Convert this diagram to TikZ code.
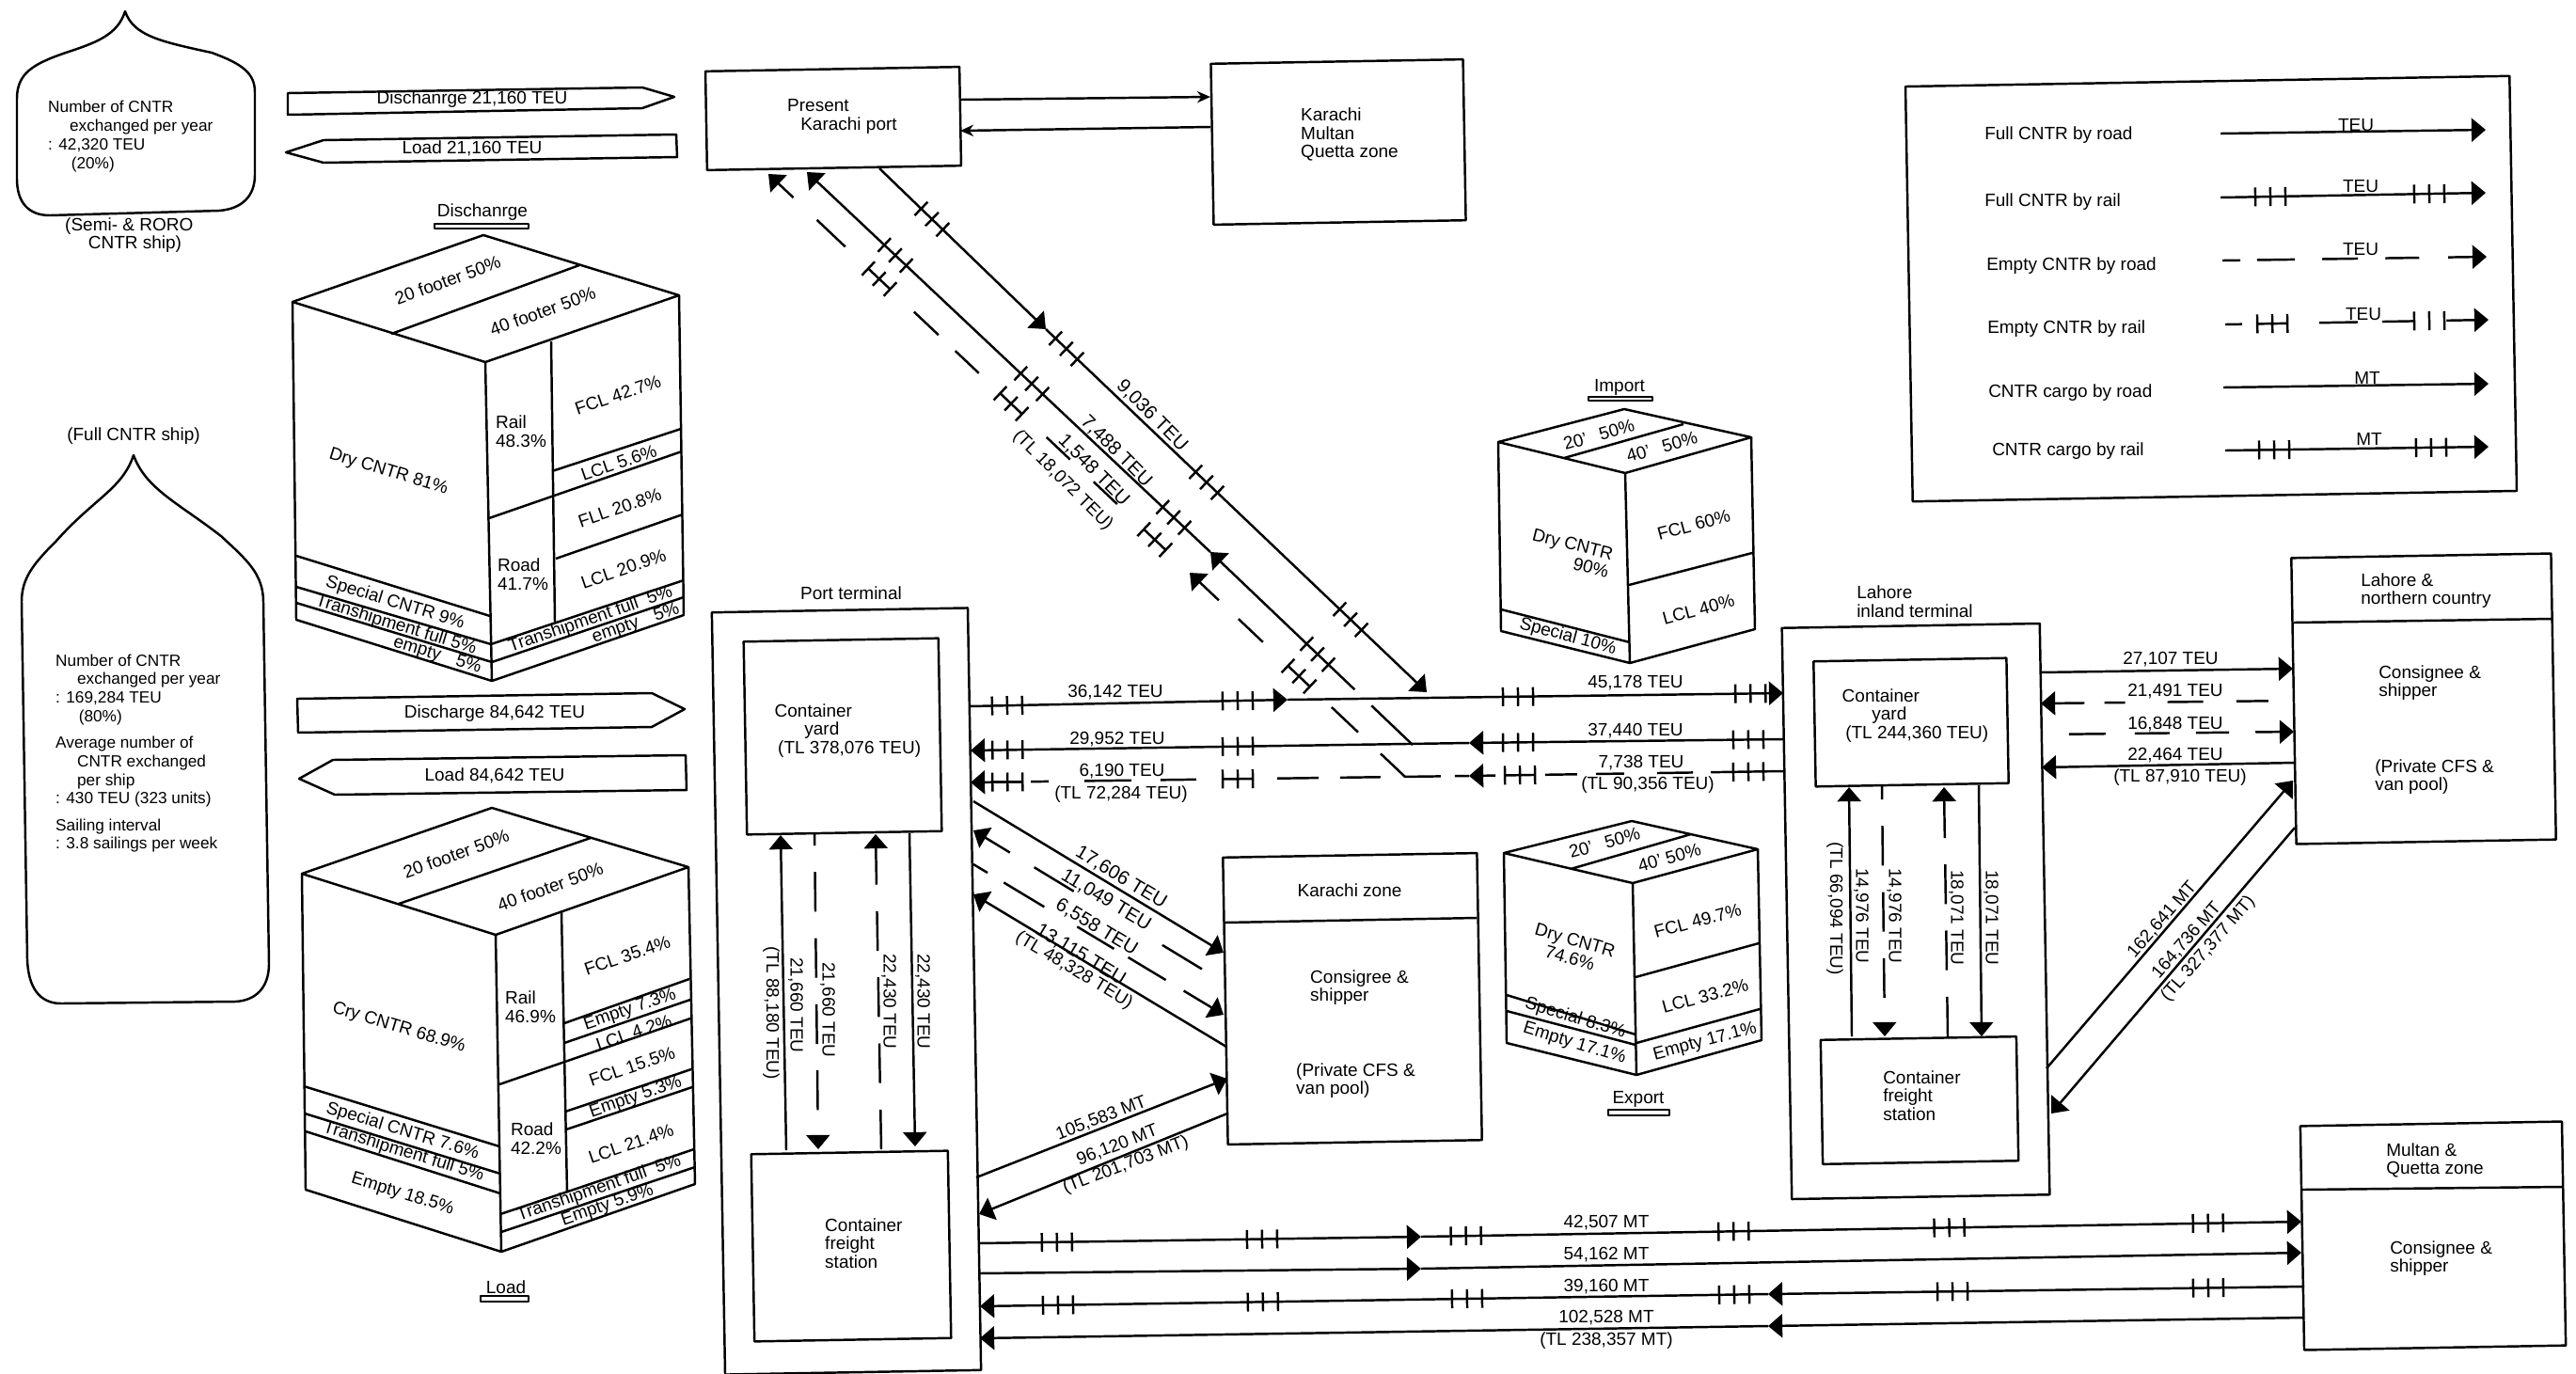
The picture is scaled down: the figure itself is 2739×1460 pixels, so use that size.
\documentclass[tikz,border=0pt]{standalone}
\usepackage{fontspec}
\setmainfont{Liberation Sans}
\usetikzlibrary{arrows.meta}
\newcommand{\lblfont}{\fontsize{5.4}{5.6}\selectfont}
\tikzset{
  box/.style={draw,rotate=1},
  shiptxt/.style={font=\fontsize{4.9}{5.6}\selectfont},
  biglbl/.style={font=\fontsize{5.8}{6}\selectfont},
  toend/.style={-{Triangle[length=4.3pt,width=7.1pt]}},
  thintip/.style={-{Stealth[length=4pt,width=3.5pt]}},
  emptyline/.style={dash pattern=on 12pt off 8pt},
  railtick/.pic={\draw[-,solid] (-16,-10) -- (-16,10) (0,-10) -- (0,10) (16,-10) -- (16,10);},
  railgap/.pic={\draw[-,solid] (-16,-10) -- (-16,10) (0,-10) -- (0,10) (16,-10) -- (16,10) (-16,0) -- (16,0);}
}
\begin{document}
\begin{tikzpicture}[x=.01cm,y=-.01cm,line width=.7pt,line join=round,every node/.style={font=\lblfont,inner sep=0pt,align=left}]
\useasboundingbox (0,0) rectangle (2739,1460);

% ships
\draw (133,12) .. controls (125,38) and (100,46) .. (70,56) .. controls (35,68) and (18,78) .. (18,105) -- (18,190) .. controls (18,215) and (30,229) .. (53,229) -- (233,224) .. controls (258,222) and (271,208) .. (271,186) -- (271,98) .. controls (271,78) and (258,68) .. (225,56) .. controls (170,44) and (142,38) .. (133,12) -- cycle;
\node[shiptxt,anchor=west] (semitxt) at (50,145) {Number of CNTR\\\hspace*{6.5pt}exchanged per year\\: 42,320 TEU\\\hspace*{7pt}(20\%)};
\node[anchor=west] (seminame) at (68,250) {(Semi- \& RORO\\\hspace*{7pt}CNTR ship)};
\node (fullname) at (142,464) {(Full CNTR ship)};
\draw (142,484) .. controls (130,520) and (100,530) .. (60,575) .. controls (35,600) and (23,615) .. (23,640) -- (29,1020) .. controls (30,1050) and (42,1067) .. (65,1067) -- (250,1065) .. controls (272,1064) and (286,1050) .. (286,1025) -- (280,640) .. controls (280,610) and (262,595) .. (235,570) .. controls (190,535) and (155,520) .. (142,484) -- cycle;
\node[shiptxt,anchor=west] (fulltxt) at (58,801) {Number of CNTR\\\hspace*{6.5pt}exchanged per year\\: 169,284 TEU\\\hspace*{7pt}(80\%)\\[2.5pt]Average number of\\\hspace*{6.5pt}CNTR exchanged\\\hspace*{6.5pt}per ship\\: 430 TEU (323 units)\\[2.5pt]Sailing interval\\: 3.8 sailings per week};

% discharge and load bands
\draw (306,99) -- (683,93) -- (717,103) -- (683,115) -- (306,122) -- cycle;
\node (dis1) at (502,106) {Dischanrge 21,160 TEU};
\draw (304,162) -- (344,149) -- (719,143) -- (720,167) -- (344,173) -- cycle;
\node (load1) at (502,158) {Load 21,160 TEU};
\draw (316,743) -- (693,737) -- (728,754) -- (693,773) -- (317,779) -- cycle;
\node (dis2) at (526,759) {Discharge 84,642 TEU};
\draw (318,828) -- (354,808) -- (729,803) -- (730,840) -- (356,845) -- cycle;
\node (load2) at (526,825) {Load 84,642 TEU};

% discharge cube
\node (distitle) at (513,226) {Dischanrge};
\draw (462,238) rectangle (562,243);
\draw (514,250) -- (722,314) -- (516,385) -- (311,321) -- cycle (616,282) -- (416,355);
\draw (311,321) -- (315,659) -- (523,724) -- (727,654) -- (722,314) (516,385) -- (523,724);
\draw (315,591) -- (521,655) (315,624) -- (522,685) (315,641) -- (523,704) (586,363) -- (590,661);
\draw (520,551) -- (725,480) (587,501) -- (724,456) (591,594) -- (726,547) (522,685) -- (727,617) (523,704) -- (727,635);
\node[rotate=20] (d20) at (476,298) {20 footer 50\%};
\node[rotate=20] (d40) at (577,331) {40 footer 50\%};
\node[rotate=-17] (ddry) at (413,502) {Dry CNTR 81\%};
\node (drail) at (554,459) {Rail\\48.3\%};
\node (droad) at (556,611) {Road\\41.7\%};
\node[rotate=19] (dfcl) at (657,420) {FCL 42.7\%};
\node[rotate=19] (dlcl) at (658,492) {LCL 5.6\%};
\node[rotate=19] (dfll) at (659,540) {FLL 20.8\%};
\node[rotate=19] (dlclb) at (663,605) {LCL 20.9\%};
\node[rotate=-17] (dspec) at (420,641) {Special CNTR 9\%};
\node[rotate=-17] (dtrl) at (421,665) {Transhipment full 5\%};
\node[rotate=-17] (demptyl) at (465,697) {empty\hspace{5pt}5\%};
\node[rotate=19] (dtrr) at (628,659) {Transhipment full\hspace{3pt}5\%};
\node[rotate=19] (demptyr) at (676,663) {empty\hspace{5pt}5\%};

% load cube
\draw (523,859) -- (732,922) -- (527,994) -- (321,929) -- cycle (628,891) -- (424,961);
\draw (321,929) -- (325,1265) -- (533,1331) -- (739,1259) -- (732,922) (527,994) -- (533,1331);
\draw (323,1155) -- (531,1219) (324,1184) -- (532,1248) (325,1203) -- (532,1269) (597,970) -- (603,1268);
\draw (600,1088) -- (733,1041) (600,1109) -- (734,1063) (531,1153) -- (734,1083) (601,1182) -- (735,1137) (602,1201) -- (736,1156) (532,1291) -- (738,1222) (533,1310) -- (739,1241);
\node[rotate=20] (l20) at (485,908) {20 footer 50\%};
\node[rotate=20] (l40) at (585,943) {40 footer 50\%};
\node[rotate=-17] (ldry) at (424,1093) {Cry CNTR 68.9\%};
\node (lrail) at (564,1071) {Rail\\46.9\%};
\node (lroad) at (570,1211) {Road\\42.2\%};
\node[rotate=19] (lfcl) at (667,1016) {FCL 35.4\%};
\node[rotate=19] (lempty) at (670,1074) {Empty 7.3\%};
\node[rotate=19] (llcl) at (674,1098) {LCL 4.2\%};
\node[rotate=19] (lfclb) at (672,1134) {FCL 15.5\%};
\node[rotate=19] (lemptyb) at (676,1167) {Empty 5.3\%};
\node[rotate=19] (llclb) at (671,1216) {LCL 21.4\%};
\node[rotate=19] (ltrr) at (637,1264) {Transhipment full\hspace{3pt}5\%};
\node[rotate=19] (lemptyr) at (646,1282) {Empty 5.9\%};
\node[rotate=-17] (lspec) at (428,1203) {Special CNTR 7.6\%};
\node[rotate=-17] (ltrl) at (429,1225) {Transhipment full 5\%};
\node[rotate=-17] (lemptyl) at (428,1270) {Empty 18.5\%};
\node (loadtitle) at (538,1369) {Load};
\draw (511,1378) rectangle (562,1384);

% import cube
\node (imptitle) at (1722,412) {Import};
\draw (1689,422) rectangle (1757,426);
\draw (1727,435) -- (1862,465) -- (1728,503) -- (1593,470) -- cycle (1790,451) -- (1663,487);
\draw (1593,470) -- (1596,671) -- (1733,705) -- (1866,669) -- (1862,465) (1728,503) -- (1733,705);
\draw (1596,648) -- (1733,683) (1732,622) -- (1863,588);
\node[rotate=16] (i20) at (1700,462) {20'\hspace{4pt}50\%};
\node[rotate=16] (i40) at (1767,475) {40'\hspace{4pt}50\%};
\node[rotate=-14,align=right] (idry) at (1670,588) {Dry CNTR\\90\%};
\node[rotate=15] (ifcl) at (1801,558) {FCL 60\%};
\node[rotate=15] (ilcl) at (1806,648) {LCL 40\%};
\node[rotate=-15] (ispec) at (1667,677) {Special 10\%};

% export cube
\draw (1735,873) -- (1869,903) -- (1736,939) -- (1599,907) -- cycle (1798,887) -- (1670,924);
\draw (1599,907) -- (1602,1109) -- (1740,1143) -- (1873,1106) -- (1869,903) (1736,939) -- (1740,1143);
\draw (1602,1058) -- (1739,1100) (1602,1075) -- (1739,1111) (1739,1039) -- (1870,1003) (1740,1109) -- (1871,1073);
\node[rotate=16] (e20) at (1706,896) {20'\hspace{4pt}50\%};
\node[rotate=16] (e40) at (1775,912) {40' 50\%};
\node[rotate=-16,align=center] (edry) at (1672,1009) {Dry CNTR\\74.6\%};
\node[rotate=15] (efcl) at (1805,979) {FCL 49.7\%};
\node[rotate=15] (elcl) at (1813,1059) {LCL 33.2\%};
\node[rotate=-17] (espec) at (1675,1083) {Special 8.3\%};
\node[rotate=-17] (eemptyl) at (1674,1110) {Empty 17.1\%};
\node[rotate=15] (eemptyr) at (1813,1108) {Empty 17.1\%};
\node (exptitle) at (1742,1169) {Export};
\draw (1710,1180) rectangle (1775,1186);

% boxes
\node[box,minimum width=2.70cm,minimum height=1.05cm] (karport) at (886,126) {};
\node[anchor=west] (karporttxt) at (836,124) {Present\\\hspace*{4pt}Karachi port};
\node[box,minimum width=2.68cm,minimum height=1.71cm] (kmq) at (1423,151) {};
\node[anchor=west] (kmqtxt) at (1382,143) {Karachi\\Multan\\Quetta zone};
\node (porttitle) at (905,631) {Port terminal};
\node[box,minimum width=2.72cm,minimum height=8.10cm] (port) at (900,1054) {};
\node[box,minimum width=2.07cm,minimum height=2.05cm] (portcy) at (896,783) {};
\node[anchor=west] (portcytxt) at (826,777) {\hspace*{-1pt}Container\\\hspace*{8pt}yard\\(TL 378,076 TEU)};
\node[box,minimum width=2.09cm,minimum height=1.99cm] (portcfs) at (905,1325) {};
\node[anchor=west] (portcfstxt) at (876,1322) {Container\\freight\\station};
\node[box,minimum width=2.70cm,minimum height=3.05cm] (kzone) at (1438,1062) {};
\draw (1302,981) -- (1570,976);
\node (kzonetitle) at (1435,947) {Karachi zone};
\node[anchor=west] (kzonea) at (1392,1050) {Consigree \&\\shipper};
\node[anchor=west] (kzoneb) at (1377,1149) {(Private CFS \&\\van pool)};
\node[anchor=west] (lahtitle) at (1973,640) {Lahore\\inland terminal};
\node[box,minimum width=2.74cm,minimum height=6.07cm] (lah) at (2037,969) {};
\node[box,minimum width=2.05cm,minimum height=1.33cm] (lahcy) at (2032,768) {};
\node[anchor=west] (lahcytxt) at (1961,761) {\hspace*{-1pt}Container\\\hspace*{8pt}yard\\(TL 244,360 TEU)};
\node[box,minimum width=2.08cm,minimum height=1.32cm] (lahcfs) at (2041,1170) {};
\node[anchor=west] (lahcfstxt) at (2001,1165) {Container\\freight\\station};
\node[box,minimum width=2.76cm,minimum height=3.04cm] (north) at (2577,743) {};
\draw (2439,662) -- (2714,658);
\node[anchor=west] (northtitle) at (2509,628) {Lahore \&\\northern country};
\node[anchor=west] (northa) at (2528,726) {Consignee \&\\shipper};
\node[anchor=west] (northb) at (2524,826) {(Private CFS \&\\van pool)};
\node[box,minimum width=2.78cm,minimum height=2.38cm] (mq) at (2587,1314) {};
\draw (2448,1265) -- (2724,1262);
\node[anchor=west] (mqtitle) at (2536,1234) {Multan \&\\Quetta zone};
\node[anchor=west] (mqtxt) at (2540,1338) {Consignee \&\\shipper};

% end points on the boxes
\coordinate (karportA) at (1021,106);
\coordinate (kmqA) at (1287,103);
\coordinate (kmqB) at (1287,135);
\coordinate (karportB) at (1021,139);
\coordinate (karportC) at (935,179);
\coordinate (jA) at (1112,350);
\coordinate (jB) at (1517,736);
\coordinate (karportD) at (858,183);
\coordinate (jC) at (1287,587);
\coordinate (jD) at (1502,792);
\coordinate (karportE) at (817,185);
\coordinate (jE) at (1265,609);
\coordinate (jF) at (1494,826);
\coordinate (portA) at (1031,751);
\coordinate (midA) at (1369,744);
\coordinate (lahA) at (1896,737);
\coordinate (lahB) at (1896,786);
\coordinate (midB) at (1562,790);
\coordinate (portB) at (1032,798);
\coordinate (lahC) at (1896,820);
\coordinate (midC) at (1562,825);
\coordinate (portC) at (1032,832);

% port and inland terminal
\draw[thintip] (karportA) -- (kmqA);
\draw[thintip] (kmqB) -- (karportB);
\draw[toend] (karportC) -- (jA) pic[pos=.316,sloped]{railtick};
\draw[toend] (jA) -- (jB) pic[pos=.054,sloped]{railtick} pic[pos=.422,sloped]{railtick} pic[pos=.80,sloped]{railtick};
\draw[toend,dash pattern=on 17.2pt off 7pt on 100pt] (jD) -- (jC) pic[pos=.47,sloped]{railtick};
\draw[toend] (jC) -- (karportD) pic[pos=.091,sloped]{railtick} pic[pos=.443,sloped]{railtick} pic[pos=.781,sloped]{railtick};
\draw[toend,dash pattern=on 10.2pt off 9.4pt on 11pt off 28.6pt on 10.2pt off 8.2pt on 12.1pt] (jF) -- (jE) pic[pos=.493,sloped]{railgap};
\draw[toend,dash pattern=on 0pt off 30.2pt on 9.8pt off 9.8pt on 9.8pt off 28.2pt on 9.8pt off 7pt on 10.2pt off 28.6pt on 11.8pt off 9.8pt on 10.6pt] (jE) -- (karportE) pic[pos=.083,sloped]{railgap} pic[pos=.424,sloped]{railgap} pic[pos=.737,sloped]{railgap};
\draw[toend] (portA) -- (midA) pic[pos=.118,sloped]{railtick} pic[pos=.843,sloped]{railtick};
\draw[toend] (midA) -- (lahA) pic[pos=.465,sloped]{railtick} pic[pos=.934,sloped]{railtick};
\draw[toend] (lahB) -- (midB) pic[pos=.111,sloped]{railtick} pic[pos=.844,sloped]{railtick};
\draw[toend] (midB) -- (portB) pic[pos=.464,sloped]{railtick} pic[pos=.926,sloped]{railtick};
\draw[toend,dash pattern=on 21.9pt off 5.4pt on 10.8pt off 10pt on 8.5pt off 5.7pt on 9.7pt off 15pt on 8pt] (lahC) -- (midC) pic[pos=.111,sloped]{railtick} pic[pos=.838,sloped]{railgap};
\draw[toend,dash pattern=on 4.3pt off 4.3pt on 11.1pt off 7.1pt on 12.2pt off 6.5pt on 12.5pt off 24.5pt on 10.8pt off 8.8pt on 14.2pt off 10.8pt on 5.4pt off 2.3pt on 15.9pt] (midC) -- (portC) pic[pos=.464,sloped]{railgap} pic[pos=.926,sloped]{railgap};
\node[biglbl,rotate=-45] (t9036) at (1225,442) {9,036 TEU};
\node[biglbl,rotate=-45] (t7488) at (1187,480) {7,488 TEU};
\node[biglbl,rotate=-45] (t1548) at (1163,500) {1,548 TEU};
\node[rotate=-45] (t18072) at (1130,511) {(TL 18,072 TEU)};
\node (t36142) at (1186,736) {36,142 TEU};
\node (t45178) at (1739,726) {45,178 TEU};
\node (t29952) at (1188,786) {29,952 TEU};
\node (t37440) at (1739,777) {37,440 TEU};
\node (t6190) at (1193,820) {6,190 TEU};
\node (t72284) at (1192,845) {(TL 72,284 TEU)};
\node (t7738) at (1745,811) {7,738 TEU};
\node (t90356) at (1752,835) {(TL 90,356 TEU)};

% inside the port terminal
\coordinate (pcyA) at (830,888);
\coordinate (pcfA) at (836,1223);
\coordinate (pcyB) at (866,885);
\coordinate (pcfB) at (870,1222);
\coordinate (pcyC) at (931,887);
\coordinate (pcfC) at (937,1222);
\coordinate (pcyD) at (967,886);
\coordinate (pcfD) at (973,1219);
\draw[toend] (pcfA) -- (pcyA);
\draw[toend,emptyline,dash phase=8pt] (pcyB) -- (pcfB);
\draw[toend,emptyline] (pcfC) -- (pcyC);
\draw[toend] (pcyD) -- (pcfD);
\node[rotate=-90] (t88180) at (820,1077) {(TL 88,180 TEU)};
\node[rotate=-90] (t21660a) at (846,1069) {21,660 TEU};
\node[rotate=-90] (t21660b) at (880,1074) {21,660 TEU};
\node[rotate=-90] (t22430a) at (945,1065) {22,430 TEU};
\node[rotate=-90] (t22430b) at (981,1065) {22,430 TEU};

% inside the inland terminal
\coordinate (lcyA) at (1966,837);
\coordinate (lcfA) at (1969,1102);
\coordinate (lcyB) at (2001,836);
\coordinate (lcfB) at (2004,1102);
\coordinate (lcyC) at (2067,837);
\coordinate (lcfC) at (2071,1102);
\coordinate (lcyD) at (2104,835);
\coordinate (lcfD) at (2107,1102);
\draw[toend] (lcfA) -- (lcyA);
\draw[toend,emptyline,dash phase=8pt] (lcyB) -- (lcfB);
\draw[toend,emptyline] (lcfC) -- (lcyC);
\draw[toend] (lcyD) -- (lcfD);
\node[rotate=-90] (t66094) at (1951,966) {(TL 66,094 TEU)};
\node[rotate=-90] (t14976a) at (1979,974) {14,976 TEU};
\node[rotate=-90] (t14976b) at (2014,974) {14,976 TEU};
\node[rotate=-90] (t18071a) at (2080,976) {18,071 TEU};
\node[rotate=-90] (t18071b) at (2117,976) {18,071 TEU};

% Karachi zone
\coordinate (portD) at (1035,852);
\coordinate (kzA) at (1301,1013);
\coordinate (kzB) at (1302,1045);
\coordinate (portE) at (1035,883);
\coordinate (portF) at (1035,919);
\coordinate (kzC) at (1301,1079);
\coordinate (kzD) at (1304,1113);
\coordinate (portG) at (1035,951);
\coordinate (portH) at (1038,1252);
\coordinate (kzE) at (1305,1147);
\coordinate (kzF) at (1305,1184);
\coordinate (portI) at (1041,1291);
\draw[toend] (portD) -- (kzA);
\draw[toend,dash pattern=on 0pt off 8pt on 14pt off 31.3pt on 14pt off 8.6pt on 13pt] (kzB) -- (portE);
\draw[toend,dash pattern=on 5pt off 5.7pt on 14.3pt off 11.6pt on 13pt off 5pt on 13.3pt off 6.3pt on 14.3pt] (portF) -- (kzC);
\draw[toend] (kzD) -- (portG);
\draw[toend] (portH) -- (kzE);
\draw[toend] (kzF) -- (portI);
\node[biglbl,rotate=-31] (t17606) at (1192,933) {17,606 TEU};
\node[biglbl,rotate=-31] (t11049) at (1176,957) {11,049 TEU};
\node[biglbl,rotate=-31] (t6558) at (1166,986) {6,558 TEU};
\node[biglbl,rotate=-31] (t13115) at (1149,1015) {13,115 TEU};
\node[rotate=-31] (t48328) at (1142,1032) {(TL 48,328 TEU)};
\node[rotate=21] (t105583) at (1171,1189) {105,583 MT};
\node[rotate=21] (t96120) at (1188,1218) {96,120 MT};
\node[rotate=21] (t201703) at (1197,1239) {(TL 201,703 MT)};

% Lahore and northern country
\coordinate (lahD) at (2169,715);
\coordinate (nA) at (2438,711);
\coordinate (nB) at (2439,745);
\coordinate (lahE) at (2170,748);
\coordinate (lahF) at (2170,781);
\coordinate (nC) at (2439,778);
\coordinate (nD) at (2440,811);
\coordinate (lahG) at (2171,816);
\coordinate (lahH) at (2176,1136);
\coordinate (nE) at (2438,830);
\coordinate (nF) at (2440,880);
\coordinate (lahI) at (2181,1184);
\draw[toend] (lahD) -- (nA);
\draw[toend,dash pattern=on 0pt off 7.7pt on 9.7pt off 10pt on 10.8pt off 12.8pt on 6.3pt off 6pt on 13.4pt] (nB) -- (lahE);
\draw[toend,dash pattern=on 0pt off 8.5pt on 11.1pt off 8.8pt on 10.5pt off 8pt on 10pt off 8pt on 11.7pt] (lahF) -- (nC);
\draw[toend] (nD) -- (lahG);
\draw[toend] (lahH) -- (nE);
\draw[toend] (nF) -- (lahI);
\node (t27107) at (2308,701) {27,107 TEU};
\node (t21491) at (2313,735) {21,491 TEU};
\node (t16848) at (2313,770) {16,848 TEU};
\node (t22464) at (2313,803) {22,464 TEU};
\node (t87910) at (2318,827) {(TL 87,910 TEU)};
\node[rotate=49] (t162641) at (2299,978) {162,641 MT};
\node[rotate=49] (t164736) at (2325,1000) {164,736 MT};
\node[rotate=49] (t327377) at (2348,1009) {(TL 327,377 MT)};

% cargo to Multan
\coordinate (cfsA) at (1040,1322);
\coordinate (midD) at (1511,1315);
\coordinate (mqA) at (2447,1299);
\coordinate (cfsB) at (1040,1354);
\coordinate (midE) at (1511,1349);
\coordinate (mqB) at (2447,1332);
\coordinate (mqC) at (2450,1368);
\coordinate (midF) at (1880,1376);
\coordinate (cfsC) at (1042,1389);
\coordinate (mqD) at (2450,1401);
\coordinate (midG) at (1880,1410);
\coordinate (cfsD) at (1042,1423);
\draw[toend] (cfsA) -- (midD) pic[pos=.178,sloped]{railtick} pic[pos=.641,sloped]{railtick};
\draw[toend] (midD) -- (mqA) pic[pos=.051,sloped]{railtick} pic[pos=.355,sloped]{railtick} pic[pos=.60,sloped]{railtick} pic[pos=.894,sloped]{railtick};
\draw[toend] (cfsB) -- (midE);
\draw[toend] (midE) -- (mqB);
\draw[toend] (mqC) -- (midF) pic[pos=.179,sloped]{railtick} pic[pos=.656,sloped]{railtick};
\draw[toend] (midF) -- (cfsC) pic[pos=.043,sloped]{railtick} pic[pos=.382,sloped]{railtick} pic[pos=.641,sloped]{railtick} pic[pos=.901,sloped]{railtick};
\draw[toend] (mqD) -- (midG);
\draw[toend] (midG) -- (cfsD);
\node (t42507) at (1708,1300) {42,507 MT};
\node (t54162) at (1708,1334) {54,162 MT};
\node (t39160) at (1708,1368) {39,160 MT};
\node (t102528) at (1708,1401) {102,528 MT};
\node (t238357) at (1708,1426) {(TL 238,357 MT)};

% legend
\node[box,minimum width=6.42cm,minimum height=4.41cm] (legend) at (2351,307) {};
\node[anchor=west] (kfullroad) at (2109,144) {Full CNTR by road};
\node[anchor=west] (kfullrail) at (2109,215) {Full CNTR by rail};
\node[anchor=west] (kemptyroad) at (2111,283) {Empty CNTR by road};
\node[anchor=west] (kemptyrail) at (2112,350) {Empty CNTR by rail};
\node[anchor=west] (kcargoroad) at (2113,418) {CNTR cargo by road};
\node[anchor=west] (kcargorail) at (2117,480) {CNTR cargo by rail};
\coordinate (kaS) at (2361,142);
\coordinate (kaE) at (2643,138);
\coordinate (kbS) at (2361,210);
\coordinate (kbE) at (2643,205);
\coordinate (kcS) at (2363,277);
\coordinate (kcE) at (2644,273);
\coordinate (kdS) at (2366,345);
\coordinate (kdE) at (2646,340);
\coordinate (keS) at (2364,412);
\coordinate (keE) at (2646,408);
\coordinate (kfS) at (2366,479);
\coordinate (kfE) at (2646,475);
\draw[toend] (kaS) -- (kaE);
\draw[toend] (kbS) -- (kbE) pic[pos=.188,sloped]{railtick} pic[pos=.787,sloped]{railtick};
\draw[toend,dash pattern=on 5.4pt off 5.1pt on 11.4pt off 8.3pt on 10.8pt off 8.3pt on 10.2pt off 8.8pt on 11.7pt] (kcS) -- (kcE);
\draw[toend,dash pattern=on 5.1pt off 23.3pt on 11.7pt off 7.4pt on 9.7pt off 9.7pt on 12.8pt] (kdS) -- (kdE) pic[pos=.179,sloped]{railgap} pic[pos=.775,sloped]{railtick};
\draw[toend] (keS) -- (keE);
\draw[toend] (kfS) -- (kfE) pic[pos=.186,sloped]{railtick} pic[pos=.782,sloped]{railtick};
\node (kteua) at (2505,133) {TEU};
\node (kteub) at (2510,198) {TEU};
\node (kteuc) at (2510,265) {TEU};
\node (kteud) at (2513,334) {TEU};
\node (kmta) at (2517,402) {MT};
\node (kmtb) at (2519,467) {MT};
\end{tikzpicture}
\end{document}
